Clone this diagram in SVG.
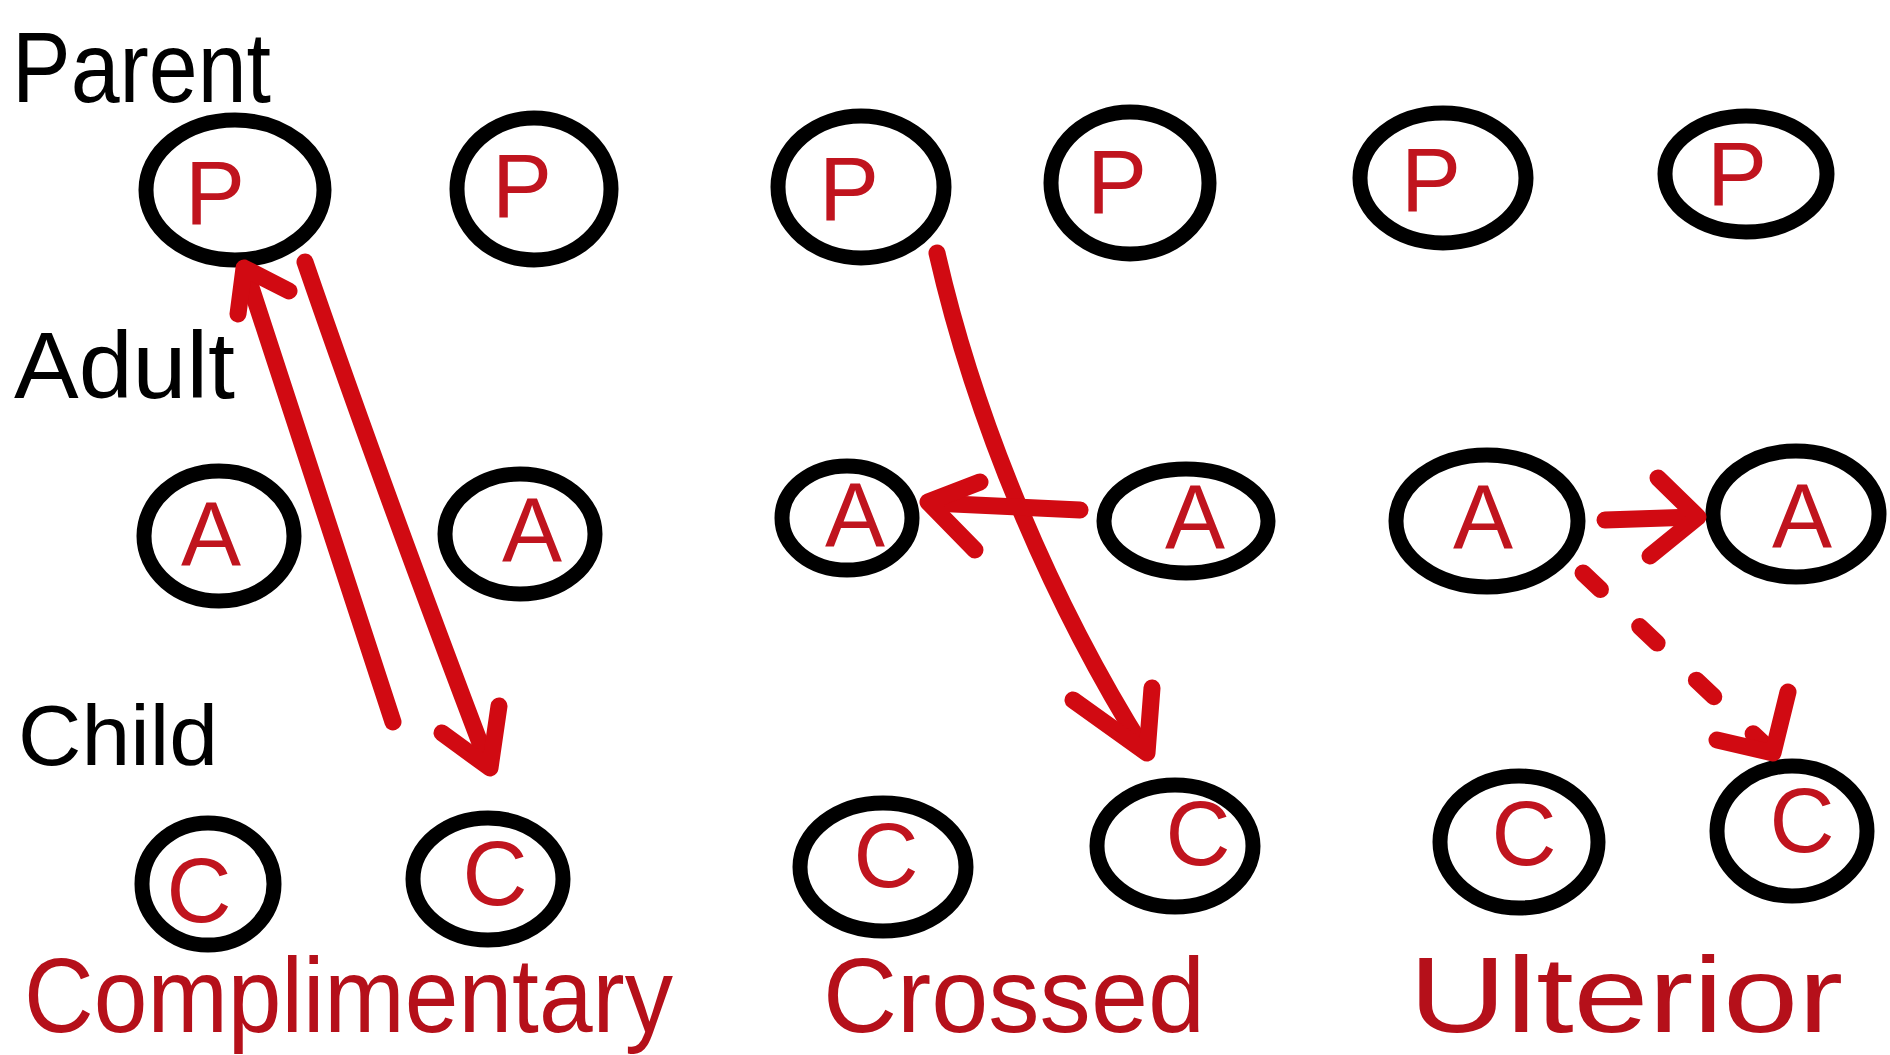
<svg xmlns="http://www.w3.org/2000/svg" width="1890" height="1055" viewBox="0 0 1890 1055">
  <style>
    .ring { fill: none; stroke: #000; stroke-width: 15; }
    .ego { fill: #c0141e; font-family: "Liberation Sans", Arial, sans-serif; font-size: 90px; text-anchor: middle; }
    .row { fill: #000; font-family: "Liberation Sans", Arial, sans-serif; }
    .kind { fill: #b5101a; font-family: "Liberation Sans", Arial, sans-serif; }
    .wire { fill: none; stroke: #d10a12; stroke-width: 17; stroke-linecap: round; stroke-linejoin: round; }
    .dash { stroke-dasharray: 24 54; }
  </style>
  <rect width="1890" height="1055" fill="#fff"/>

  <g id="labels">
    <text class="row" x="12" y="102" font-size="100" textLength="259" lengthAdjust="spacingAndGlyphs">Parent</text>
    <text class="row" x="14" y="398" font-size="95" textLength="221" lengthAdjust="spacingAndGlyphs">Adult</text>
    <text class="row" x="18" y="765" font-size="85" textLength="200" lengthAdjust="spacingAndGlyphs">Child</text>
    <text class="kind" x="24" y="1032" font-size="106" textLength="649" lengthAdjust="spacingAndGlyphs">Complimentary</text>
    <text class="kind" x="823" y="1032" font-size="106" textLength="382" lengthAdjust="spacingAndGlyphs">Crossed</text>
    <text class="kind" x="1409" y="1032" font-size="108" textLength="434" lengthAdjust="spacingAndGlyphs">Ulterior</text>
  </g>

  <g id="P1"><ellipse class="ring" cx="235" cy="190" rx="89" ry="70"/><text class="ego" x="215" y="224">P</text></g>
  <g id="P2"><ellipse class="ring" cx="534" cy="189" rx="77" ry="71"/><text class="ego" x="522" y="217">P</text></g>
  <g id="P3"><ellipse class="ring" cx="861" cy="187" rx="83" ry="71"/><text class="ego" x="849" y="220">P</text></g>
  <g id="P4"><ellipse class="ring" cx="1130" cy="183" rx="79" ry="71"/><text class="ego" x="1117" y="213">P</text></g>
  <g id="P5"><ellipse class="ring" cx="1443" cy="178" rx="83" ry="65"/><text class="ego" x="1431" y="211">P</text></g>
  <g id="P6"><ellipse class="ring" cx="1746" cy="174" rx="81" ry="58"/><text class="ego" x="1737" y="205">P</text></g>

  <g id="A1"><ellipse class="ring" cx="219" cy="536" rx="75" ry="65"/><text class="ego" x="211" y="565">A</text></g>
  <g id="A2"><ellipse class="ring" cx="520" cy="534" rx="75" ry="60"/><text class="ego" x="532" y="561">A</text></g>
  <g id="A3"><ellipse class="ring" cx="847" cy="518" rx="65" ry="52"/><text class="ego" x="855" y="546">A</text></g>
  <g id="A4"><ellipse class="ring" cx="1186" cy="521" rx="82" ry="52"/><text class="ego" x="1195" y="548">A</text></g>
  <g id="A5"><ellipse class="ring" cx="1487" cy="521" rx="91" ry="66"/><text class="ego" x="1483" y="548">A</text></g>
  <g id="A6"><ellipse class="ring" cx="1796" cy="514" rx="83" ry="63"/><text class="ego" x="1802" y="547">A</text></g>

  <g id="C1"><ellipse class="ring" cx="208" cy="884" rx="66" ry="61"/><text class="ego" x="199" y="922">C</text></g>
  <g id="C2"><ellipse class="ring" cx="488" cy="879" rx="75" ry="61"/><text class="ego" x="495" y="905">C</text></g>
  <g id="C3"><ellipse class="ring" cx="883" cy="867" rx="83" ry="64"/><text class="ego" x="886" y="887">C</text></g>
  <g id="C4"><ellipse class="ring" cx="1175" cy="846" rx="78" ry="61"/><text class="ego" x="1198" y="865">C</text></g>
  <g id="C5"><ellipse class="ring" cx="1519" cy="842" rx="79" ry="66"/><text class="ego" x="1524" y="865">C</text></g>
  <g id="C6"><ellipse class="ring" cx="1792" cy="831" rx="75" ry="65"/><text class="ego" x="1802" y="852">C</text></g>

  <g id="connectors">
    <path class="wire" d="M393,722 L246,272"/>
    <path class="wire" d="M238,314 L244,268 L289,291"/>
    <path class="wire" d="M305,262 Q380,480 488,764"/>
    <path class="wire" d="M442,733 L490,768 L499,706"/>
    <path class="wire" d="M937,253 C975,420 1050,600 1145,751"/>
    <path class="wire" d="M1073,700 L1147,753 L1152,688"/>
    <path class="wire" d="M1080,510 L932,503"/>
    <path class="wire" d="M980,482 L928,502 L975,550"/>
    <path class="wire" d="M1605,520 L1695,517"/>
    <path class="wire" d="M1658,478 L1698,517 L1650,556"/>
    <path class="wire dash" d="M1583,573 L1765,745"/>
    <path class="wire" d="M1717,740 L1773,753 L1788,692"/>
  </g>
</svg>
